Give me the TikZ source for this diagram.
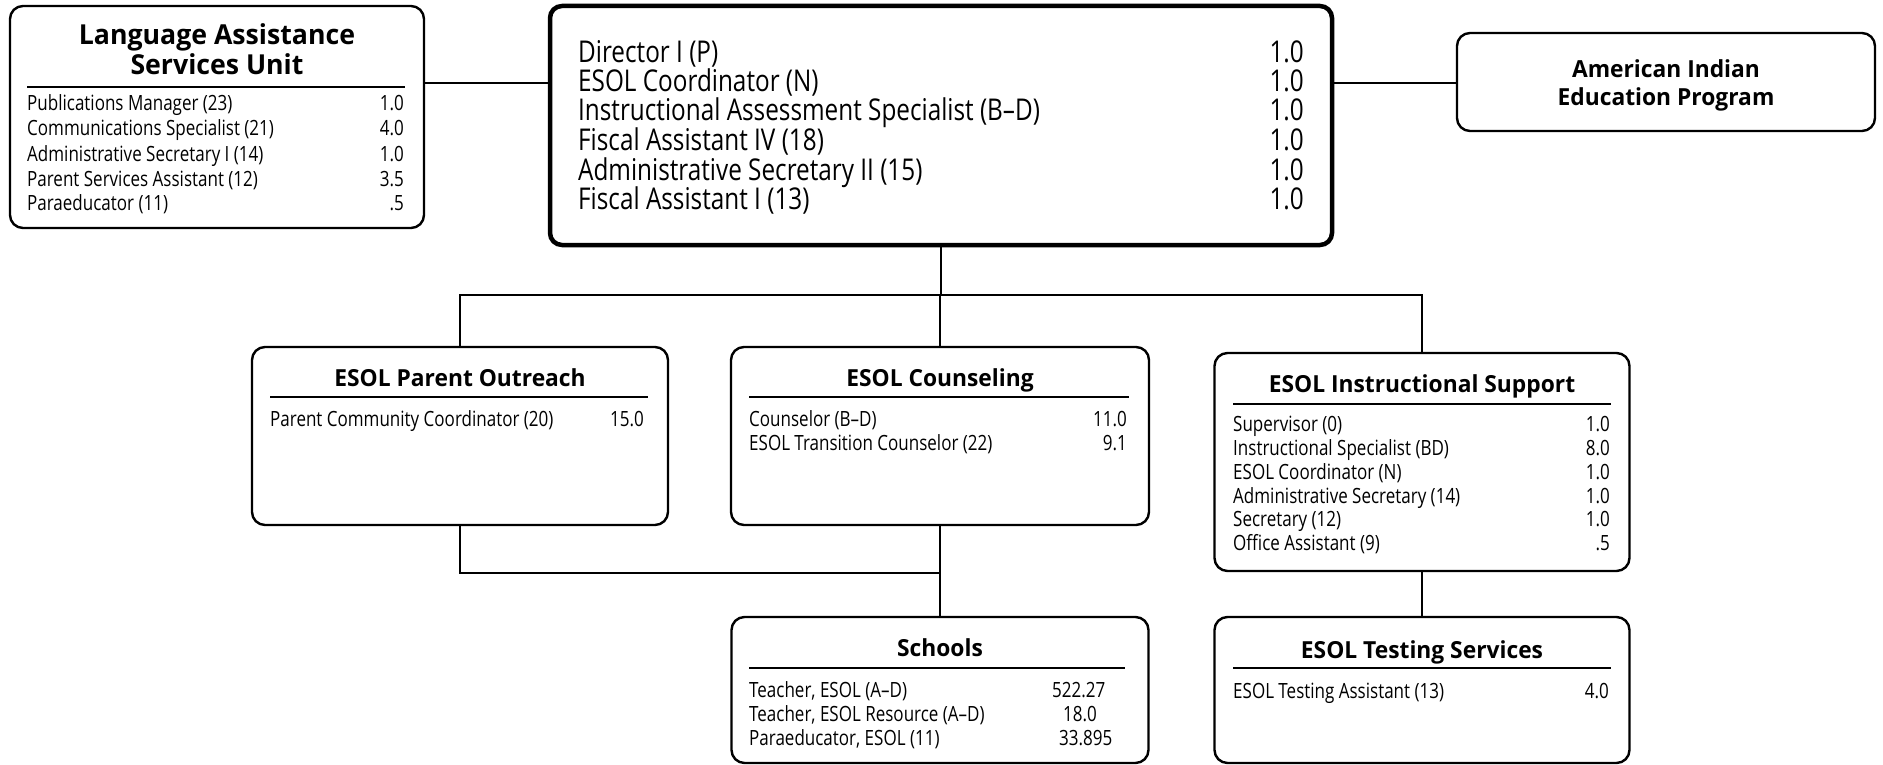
\documentclass[tikz,border=0pt]{standalone}
\usepackage{fontspec}
\newfontfamily\bodyfam[FakeStretch=0.81]{Open Sans}
\newfontfamily\ttlfam[FakeStretch=0.97]{Open Sans}
\newcommand\rowfnt{\bodyfam\fontsize{21}{21}\selectfont}
\newcommand\dirfnt{\bodyfam\fontsize{30}{30}\selectfont}
\newcommand\ttlfnt{\ttlfam\bfseries\fontsize{23.5}{23.5}\selectfont}
\newcommand\bigttlfnt{\ttlfam\bfseries\fontsize{27.5}{27.5}\selectfont}
\begin{document}
\begin{tikzpicture}[x=1pt,y=-1pt,
  box/.style={draw, rounded corners=13pt, line width=2.4pt, inner sep=0pt},
  bigbox/.style={box, line width=4.5pt, rounded corners=12pt},
  ttl/.style={font=\ttlfnt, anchor=base, inner sep=0pt},
  bigttl/.style={font=\bigttlfnt, anchor=base, inner sep=0pt},
  row/.style={font=\rowfnt, anchor=base west, inner sep=0pt},
  num/.style={font=\rowfnt, anchor=base east, inner sep=0pt},
  drow/.style={font=\dirfnt, anchor=base west, inner sep=0pt},
  dnum/.style={font=\dirfnt, anchor=base east, inner sep=0pt},
  conn/.style={line width=2pt},
  rulel/.style={line width=1.6pt}]
\useasboundingbox[fill=white] (0,0) rectangle (1883,765);

% boxes
\node[box, minimum width=414pt, minimum height=222pt] (las) at (217,117) {};
\node[bigbox, minimum width=782pt, minimum height=239pt] (dir) at (941,125.5) {};
\node[box, minimum width=418pt, minimum height=98pt] (aiep) at (1666,82) {};
\node[box, minimum width=416pt, minimum height=178pt] (epo) at (460,436) {};
\node[box, minimum width=418pt, minimum height=178pt] (cns) at (940,436) {};
\node[box, minimum width=415pt, minimum height=218pt] (eis) at (1422,462) {};
\node[box, minimum width=417pt, minimum height=146pt] (sch) at (940,690) {};
\node[box, minimum width=415pt, minimum height=146pt] (ets) at (1422,690) {};

% connectors
\coordinate (hline) at (0,83);
\coordinate (topbus) at (0,295);
\coordinate (botbus) at (0,573);
\draw[conn] (las.east |- hline) -- (dir.west |- hline);
\draw[conn] (dir.east |- hline) -- (aiep.west |- hline);
\draw[conn] (dir.south) -- (dir.south |- topbus);
\draw[conn] (epo.north) |- (eis.north |- topbus) -- (eis.north);
\draw[conn] (cns.north) -- (cns.north |- topbus);
\draw[conn] (epo.south) |- (cns.south |- botbus);
\draw[conn] (cns.south) -- (sch.north);
\draw[conn] (eis.south) -- (ets.north);

% Language Assistance Services Unit
\node[bigttl] (lasT1) at (217,45) {Language Assistance};
\node[bigttl] (lasT2) at (217,75) {Services Unit};
\draw[rulel] (27,87) -- (405,87);
\node[row] (las1) at (27,111) {Publications Manager (23)};
\node[num] (las1n) at (404,111) {1.0};
\node[row] (las2) at (27,136) {Communications Specialist (21)};
\node[num] (las2n) at (404,136) {4.0};
\node[row] (las3) at (27,161) {Administrative Secretary I (14)};
\node[num] (las3n) at (404,161) {1.0};
\node[row] (las4) at (27,186) {Parent Services Assistant (12)};
\node[num] (las4n) at (404,186) {3.5};
\node[row] (las5) at (27,210) {Paraeducator (11)};
\node[num] (las5n) at (404,210) {.5};

% Director
\node[drow] (d1) at (578,63) {Director I (P)};
\node[dnum] (d1n) at (1304,63) {1.0};
\node[drow] (d2) at (578,92) {ESOL Coordinator (N)};
\node[dnum] (d2n) at (1304,92) {1.0};
\node[drow] (d3) at (578,121) {Instructional Assessment Specialist (B–D)};
\node[dnum] (d3n) at (1304,121) {1.0};
\node[drow] (d4) at (578,151) {Fiscal Assistant IV (18)};
\node[dnum] (d4n) at (1304,151) {1.0};
\node[drow] (d5) at (578,180) {Administrative Secretary II (15)};
\node[dnum] (d5n) at (1304,180) {1.0};
\node[drow] (d6) at (578,209) {Fiscal Assistant I (13)};
\node[dnum] (d6n) at (1304,209) {1.0};

% American Indian Education Program
\node[ttl] (aiT1) at (1666,78) {American Indian};
\node[ttl] (aiT2) at (1666,106) {Education Program};

% ESOL Parent Outreach
\node[ttl] (epoT) at (460,386) {ESOL Parent Outreach};
\draw[rulel] (270,397) -- (648,397);
\node[row] (epo1) at (270,426) {Parent Community Coordinator (20)};
\node[num] (epo1n) at (644,426) {15.0};

% ESOL Counseling
\node[ttl] (cnsT) at (940,386) {ESOL Counseling};
\draw[rulel] (749,397) -- (1129,397);
\node[row] (cns1) at (749,426) {Counselor (B–D)};
\node[num] (cns1n) at (1127,426) {11.0};
\node[row] (cns2) at (749,450) {ESOL Transition Counselor (22)};
\node[num] (cns2n) at (1127,450) {9.1};

% ESOL Instructional Support
\node[ttl] (eisT) at (1422,392) {ESOL Instructional Support};
\draw[rulel] (1233,404) -- (1611,404);
\node[row] (eis1) at (1233,431) {Supervisor (0)};
\node[num] (eis1n) at (1610,431) {1.0};
\node[row] (eis2) at (1233,455) {Instructional Specialist (BD)};
\node[num] (eis2n) at (1610,455) {8.0};
\node[row] (eis3) at (1233,479) {ESOL Coordinator (N)};
\node[num] (eis3n) at (1610,479) {1.0};
\node[row] (eis4) at (1233,503) {Administrative Secretary (14)};
\node[num] (eis4n) at (1610,503) {1.0};
\node[row] (eis5) at (1233,526) {Secretary (12)};
\node[num] (eis5n) at (1610,526) {1.0};
\node[row] (eis6) at (1233,550) {Office Assistant (9)};
\node[num] (eis6n) at (1610,550) {.5};

% Schools
\node[ttl] (schT) at (940,656) {Schools};
\draw[rulel] (749,668) -- (1125,668);
\node[row] (sch1) at (749,697) {Teacher, ESOL (A–D)};
\node[row] (sch1n) at (1052,697) {522.27};
\node[row] (sch2) at (749,721) {Teacher, ESOL Resource (A–D)};
\node[row] (sch2n) at (1063,721) {18.0};
\node[row] (sch3) at (749,745) {Paraeducator, ESOL (11)};
\node[row] (sch3n) at (1059,745) {33.895};

% ESOL Testing Services
\node[ttl] (etsT) at (1422,658) {ESOL Testing Services};
\draw[rulel] (1233,668) -- (1611,668);
\node[row] (ets1) at (1233,698) {ESOL Testing Assistant (13)};
\node[num] (ets1n) at (1609,698) {4.0};
\end{tikzpicture}
\end{document}
